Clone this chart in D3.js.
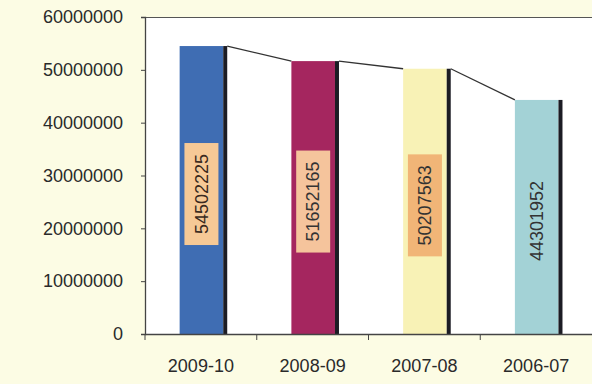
<!DOCTYPE html>
<html>
<head>
<meta charset="utf-8">
<script src="https://cdn.jsdelivr.net/npm/d3@7"></script>
<style>
  body { margin: 0; background: #fcfce4; }
  svg { display: block; font-family: "Liberation Sans", Arial, sans-serif; }
</style>
</head>
<body>
<div class="chart"></div>
<script>
// chart data
const categories = ["2009-10", "2008-09", "2007-08", "2006-07"];
const values = [54502225, 51652165, 50207563, 44301952];
const yTicks = [0, 10000000, 20000000, 30000000, 40000000, 50000000, 60000000];

// bar styles
const barColors = ["#3f6db3", "#a5265f", "#f8f2b6", "#a3d2d6"];
const labelFills = ["#f6c996", "#f5c49c", "#f1b577", "none"];

const w = 592, h = 384;
const margin = { top: 17, right: 0, bottom: 50, left: 145 };

const svg = d3.select("div.chart")
    .append("svg")
    .attr("width", w)
    .attr("height", h);

svg.append("rect")
    .attr("width", w).attr("height", h)
    .attr("fill", "#fcfce4");

// scales
const xScale = d3.scaleBand()
    .domain(categories)
    .range([margin.left, w - margin.right])
    .padding(0);

const yScale = d3.scaleLinear()
    .domain([0, 60000000])
    .range([h - margin.bottom, margin.top]);

// plot area
svg.append("rect")
    .attr("x", margin.left)
    .attr("y", margin.top)
    .attr("width", w - margin.left - margin.right)
    .attr("height", h - margin.top - margin.bottom)
    .attr("fill", "#ffffff");

svg.append("line")
    .attr("x1", margin.left).attr("x2", w)
    .attr("y1", margin.top + 0.5).attr("y2", margin.top + 0.5)
    .attr("stroke", "#555").attr("stroke-width", 1.2);

const bw = xScale.bandwidth();
const barOff = bw * 0.31, barW = bw * 0.39, edge = 4;

// connecting line between bar tops
const links = d3.pairs(d3.zip(categories, values));
svg.selectAll("line.link")
    .data(links)
    .enter()
    .append("line")
    .attr("class", "link")
    .attr("x1", d => xScale(d[0][0]) + barOff + barW + edge)
    .attr("y1", d => yScale(d[0][1]))
    .attr("x2", d => xScale(d[1][0]) + barOff)
    .attr("y2", d => yScale(d[1][1]))
    .attr("stroke", "#333")
    .attr("stroke-width", 1.3);

// bars
svg.selectAll("rect.bar")
    .data(values)
    .enter()
    .append("rect")
    .attr("class", "bar")
    .attr("x", (d, i) => xScale(categories[i]) + barOff)
    .attr("y", d => yScale(d))
    .attr("width", barW)
    .attr("height", d => yScale(0) - yScale(d))
    .attr("fill", (d, i) => barColors[i]);

// dark right edge
svg.selectAll("rect.edge")
    .data(values)
    .enter()
    .append("rect")
    .attr("class", "edge")
    .attr("x", (d, i) => xScale(categories[i]) + barOff + barW)
    .attr("y", d => yScale(d))
    .attr("width", edge)
    .attr("height", d => yScale(0) - yScale(d))
    .attr("fill", "#1c1c24");

// value labels
const labels = svg.selectAll("g.label")
    .data(values)
    .enter()
    .append("g")
    .attr("class", "label")
    .attr("transform", (d, i) => "translate(" + (xScale(categories[i]) + barOff + barW / 2) + "," + ((yScale(d) + yScale(0)) / 2 + 4) + ") rotate(-90)");

labels.append("rect")
    .attr("x", -51).attr("y", -17)
    .attr("width", 102).attr("height", 34)
    .attr("fill", (d, i) => labelFills[i]);

labels.append("text")
    .attr("text-anchor", "middle")
    .attr("dy", "0.35em")
    .attr("font-size", 18)
    .attr("fill", (d, i) => i === 0 ? "#3a2a20" : "#333")
    .text(d => d);

// axes
const yAxis = d3.axisLeft(yScale)
    .tickValues(yTicks)
    .tickFormat(d3.format("d"))
    .tickSize(4)
    .tickPadding(18);
svg.append("g")
    .attr("id", "y-axis")
    .attr("transform", "translate(" + margin.left + ",0)")
    .call(yAxis);

const xAxis = d3.axisBottom(xScale)
    .tickSize(0)
    .tickPadding(25);
svg.append("g")
    .attr("id", "x-axis")
    .attr("transform", "translate(0," + (h - margin.bottom) + ")")
    .call(xAxis);

// x ticks at band boundaries
svg.selectAll("line.xtick")
    .data(categories)
    .enter()
    .append("line")
    .attr("class", "xtick")
    .attr("x1", d => xScale(d)).attr("x2", d => xScale(d))
    .attr("y1", h - margin.bottom).attr("y2", h - margin.bottom + 6)
    .attr("stroke", "#444");

svg.selectAll(".domain").attr("stroke", "#444").attr("stroke-width", 1.3);
svg.selectAll(".tick line").attr("stroke", "#444");
svg.selectAll(".tick text")
    .attr("font-size", 18)
    .attr("fill", "#2a2a2a")
    .attr("font-family", "'Liberation Sans', Arial, sans-serif");
</script>
</body>
</html>
